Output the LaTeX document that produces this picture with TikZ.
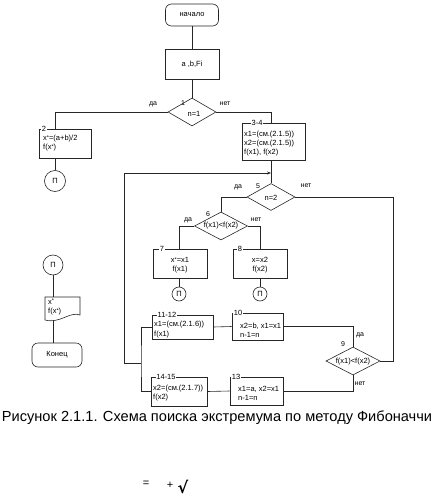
\documentclass[tikz,border=0pt]{standalone}
\usepackage{fontspec}
\setmainfont{Liberation Sans}
\newfontfamily\djv{DejaVu Sans}
\usetikzlibrary{shapes.geometric,arrows.meta,calc}
\newcommand{\xs}{x{\fontsize{5.5}{5.5}\selectfont\raisebox{1.2pt}{*}}}
\begin{document}
\begin{tikzpicture}[x=1pt,y=-1pt,
  every node/.style={font=\fontsize{7.5}{9.2}\selectfont},
  ln/.style={draw=black!85, line width=0.6pt},
  blk/.style={draw=black!85, line width=0.6pt, rectangle, inner sep=0pt},
  term/.style={blk, rounded corners=6pt},
  dia/.style={draw=black!85, line width=0.6pt, diamond, inner sep=0pt},
  conn/.style={draw=black!85, line width=0.6pt, circle, inner sep=0pt},
  num/.style={fill=white, inner sep=0.6pt},
  txt/.style={align=left, anchor=west, inner sep=0pt},
  ctxt/.style={align=center, inner sep=0pt},
  lbl/.style={inner sep=0pt, font=\fontsize{7}{7}\selectfont}
]
\useasboundingbox (0,0) rectangle (436,500);

% terminals and blocks
\node[term, minimum width=53pt, minimum height=22pt] (start) at (192,15) {начало};
\node[blk, minimum width=54pt, minimum height=30pt] (abf) at (192,64) {a ,b,Fi};
\node[dia, minimum width=48pt, minimum height=28pt] (d1) at (192,112) {};
\node[ctxt] (t1) at (194,114) {n=1};
\node[lbl] (n1) at (183,103) {1};
\node[lbl] (y1) at (153,104) {да};
\node[lbl] (no1) at (225,104) {нет};

\node[blk, minimum width=52pt, minimum height=29pt] (b2) at (65,143.5) {};
\node[num] (n2) at (44,129) {2};
\node[txt] (t2) at (43,143) {\xs=(a+b)/2\\f(\xs)};
\node[conn, minimum size=21pt] (c2) at (55,181) {П};

\node[blk, minimum width=63pt, minimum height=37pt] (b34) at (273.5,141.5) {};
\node[num] (n34) at (257,123) {3-4};
\node[txt] (t34) at (244,143.5) {x1=(см.(2.1.5))\\x2=(см.(2.1.5))\\f(x1), f(x2)};

\node[dia, minimum width=48pt, minimum height=27pt] (d5) at (271,197) {};
\node[ctxt] (t5) at (271,198) {n=2};
\node[lbl] (n5) at (258,186) {5};
\node[lbl] (y5) at (238,187) {да};
\node[lbl] (no5) at (306,186) {нет};

\node[dia, minimum width=53pt, minimum height=28pt] (d6) at (221,226) {};
\node[ctxt] (t6) at (221,226) {f(x1)<f(x2)};
\node[lbl] (n6) at (208,214) {6};
\node[lbl] (y6) at (188,220) {да};
\node[lbl] (no6) at (256,220) {нет};

\node[blk, minimum width=54pt, minimum height=29pt] (b7) at (180,263.5) {};
\node[num] (n7) at (162,249) {7};
\node[ctxt] (t7) at (180,265.5) {\xs=x1\\f(x1)};
\node[conn, minimum size=14pt] (c7) at (179,294) {П};

\node[blk, minimum width=54pt, minimum height=29pt] (b8) at (260,263.5) {};
\node[num] (n8) at (240,249) {8};
\node[ctxt] (t8) at (260,265.5) {x=x2\\f(x2)};
\node[conn, minimum size=14pt] (c8) at (260,294) {П};

\node[blk, minimum width=61pt, minimum height=24pt] (b1112) at (182.5,327) {};
\node[num] (n1112) at (167,315) {11-12};
\node[txt] (t1112) at (154,329.5) {x1=(см.(2.1.6))\\f(x1)};

\node[blk, minimum width=51pt, minimum height=27pt] (b10) at (257.5,326.5) {};
\node[num] (n10) at (238,313) {10};
\node[txt] (t10) at (240,330) {x2=b, x1=x1\\n-1=n};

\node[dia, minimum width=54pt, minimum height=28pt] (d9) at (353,361) {};
\node[ctxt] (t9) at (353,361.5) {f(x1)<f(x2)};
\node[lbl] (n9) at (343,344) {9};
\node[lbl] (y9) at (360,335) {да};
\node[lbl] (no9) at (360,384) {нет};

\node[blk, minimum width=56pt, minimum height=29pt] (b1415) at (179,391.5) {};
\node[num] (n1415) at (166,377) {14-15};
\node[txt] (t1415) at (153,393) {x2=(см.(2.1.7))\\f(x2)};

\node[blk, minimum width=53pt, minimum height=28pt] (b13) at (256.5,391) {};
\node[num] (n13) at (236,377) {13};
\node[txt] (t13) at (238,393) {x1=a, x2=x1\\n-1=n};

% left column
\node[conn, minimum size=20pt] (cL) at (53,265) {П};
\node[inner sep=0pt, minimum width=35pt, minimum height=23pt] (out) at (62.5,308.5) {};
\draw[ln] (45,320) -- (45,297) -- (80,297) -- (80,315) .. controls (70,311) and (60,324) .. (45,320);
\node[txt] (tout) at (48,307) {\xs\\f(\xs)};
\coordinate (ob) at (53,320.5);
\node[term, minimum width=50pt, minimum height=24pt] (endn) at (57,355) {Конец};

% connectors
\draw[ln] (start.south) -- (abf.north);
\draw[ln] (abf.south) -- (d1.north);
\draw[ln] (d1.west) -| (c2 |- b2.north);
\draw[ln] (c2 |- b2.south) -- (c2.north);
\draw[ln] (d1.east) -| (d5 |- b34.north);
\draw[ln] (d5 |- b34.south) -- (d5.north);
\coordinate (rc) at (393,361);
\draw[ln] (d5.east) -| (rc) -- (d9.east);
\draw[ln] (d5.west) -| (d6.north);
\draw[ln] (d6.west) -| (c7 |- b7.north);
\draw[ln] (c7 |- b7.south) -- (c7.north);
\draw[ln] (d6.east) -| (c8 |- b8.north);
\draw[ln] (c8 |- b8.south) -- (c8.north);
\draw[ln] (d9.north) |- (b10.east);
\draw[ln] (b10.west) -- (b1112.east);
\coordinate (j) at (141,363);
\draw[ln] (b1112.west) -| (j) |- (b1415.west);
\coordinate (lp) at (124,363);
\coordinate (arr) at (271,173);
\draw[ln, -{Stealth[length=4pt,width=3pt]}] (j) -- (lp) |- (arr);
\draw[ln] (b1415.east) -- (b13.west);
\draw[ln] (b13.east) -| (d9.south);
\draw[ln] (cL.south) -- (cL |- out.north);
\draw[ln] (ob) -- (cL |- endn.north);

% caption
\node[inner sep=0pt, font=\fontsize{14.6}{16}\selectfont] (cap) at (217,418) {Рисунок 2.1.1. Схема поиска экстремума по методу Фибоначчи};
\node[inner sep=0pt, font=\fontsize{11}{12}\selectfont] (eq) at (146,484) {=};
\node[inner sep=0pt, font=\fontsize{11}{12}\selectfont] (pl) at (170,485) {+};
\node[inner sep=0pt, font=\djv\bfseries\fontsize{16}{17}\selectfont] (sq) at (183,487) {√};
\end{tikzpicture}
\end{document}
